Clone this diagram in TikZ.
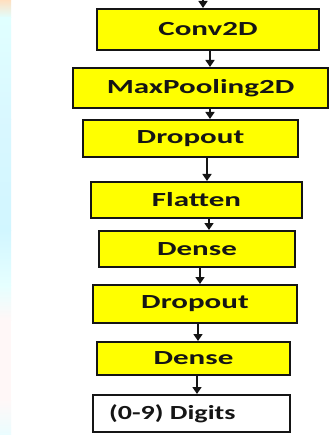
\documentclass[tikz,border=0pt]{standalone}
\usepackage{fontspec}
\usepackage{graphicx}
\usetikzlibrary{arrows.meta}
\newfontfamily\labfont{Carlito}
\newcommand\sx[2][1.55]{\scalebox{#1}[1]{#2}}
\definecolor{boxyellow}{HTML}{FFFF00}
\definecolor{ink}{HTML}{151515}
\tikzset{
  layer/.style={draw=ink, line width=2pt, fill=boxyellow, inner sep=0pt,
    font=\labfont\bfseries\fontsize{20}{24}\selectfont, text=ink},
  outbox/.style={layer, fill=white},
  arr/.style={draw=ink, line width=1.5pt, -{Triangle[length=7pt,width=9pt]}}
}
\begin{document}
\begin{tikzpicture}[x=1pt,y=-1pt]
\useasboundingbox (0,0) rectangle (329,435);
\fill[white] (0,0) rectangle (329,435);
% left decorative strip
\shade[top color=orange!25!white, bottom color=cyan!12!white] (0,0) rectangle (11,18);
\shade[top color=cyan!12!white, bottom color=blue!20!cyan!15!white] (0,18) rectangle (11,120);
\shade[top color=blue!20!cyan!15!white, bottom color=blue!20!cyan!18!white] (0,120) rectangle (11,230);
\shade[top color=blue!20!cyan!18!white, bottom color=cyan!10!white] (0,230) rectangle (11,285);
\shade[top color=cyan!10!white, bottom color=red!3!white] (0,285) rectangle (11,320);
\fill[red!3!white] (0,320) rectangle (11,400);
\shade[top color=red!3!white, bottom color=blue!10!cyan!8!white] (0,400) rectangle (11,435);

\node[layer, minimum width=222pt, minimum height=41pt] (conv) at (208,29.5) {\sx{Conv2D}};
\node[layer, minimum width=255pt, minimum height=40pt] (maxp) at (200.5,88) {\sx{MaxPooling2D}};
\node[layer, minimum width=215pt, minimum height=37pt] (drop1) at (190.5,138.5) {\sx{Dropout}};
\node[layer, minimum width=211pt, minimum height=36pt] (flat) at (196.5,200) {\sx{Flatten}};
\node[layer, minimum width=196pt, minimum height=36pt] (dense1) at (197,249) {\sx{Dense}};
\node[layer, minimum width=204pt, minimum height=38pt] (drop2) at (195,304) {\sx{Dropout}};
\node[layer, minimum width=193pt, minimum height=33pt] (dense2) at (193.5,358.5) {\sx{Dense}};
\node[outbox, minimum width=197pt, minimum height=37pt] (digits) at (191.5,413.5) {};
\node[font=\labfont\bfseries\fontsize{20}{24}\selectfont, text=ink, anchor=west, inner sep=0pt] (digitstext) at ([xshift=17pt]digits.west) {\sx[1.4]{(0-9) Digits}};

\coordinate (start) at ([xshift=-5pt,yshift=12pt]conv.north);
\draw[arr] (start) -- ([xshift=-5pt]conv.north);
\draw[arr] ([xshift=2pt]conv.south) -- ([xshift=2pt]conv.south |- maxp.north);
\draw[arr] ([xshift=9.5pt]maxp.south) -- ([xshift=9.5pt]maxp.south |- drop1.north);
\draw[arr] ([xshift=16.5pt]drop1.south) -- ([xshift=16.5pt]drop1.south |- flat.north);
\draw[arr] ([xshift=12.5pt]flat.south) -- ([xshift=12.5pt]flat.south |- dense1.north);
\draw[arr] ([xshift=3pt]dense1.south) -- ([xshift=3pt]dense1.south |- drop2.north);
\draw[arr] ([xshift=3pt]drop2.south) -- ([xshift=3pt]drop2.south |- dense2.north);
\draw[arr] ([xshift=3.5pt]dense2.south) -- ([xshift=3.5pt]dense2.south |- digits.north);
\end{tikzpicture}
\end{document}
